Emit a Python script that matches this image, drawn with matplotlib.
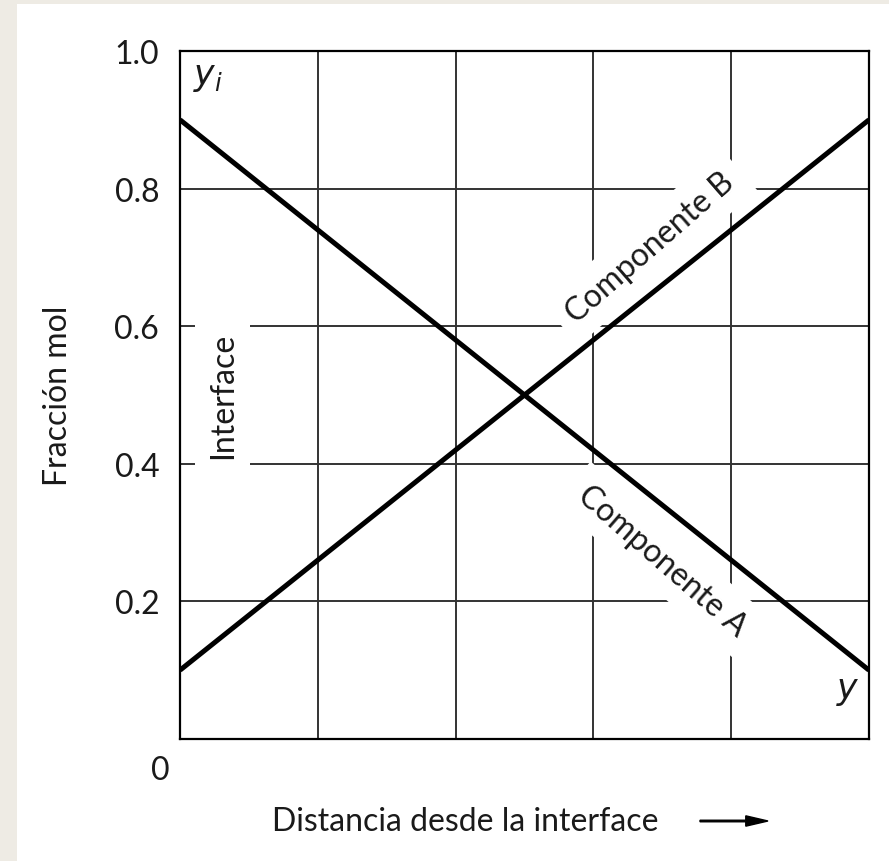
import numpy as np
import matplotlib.pyplot as plt
from matplotlib.patches import Rectangle, FancyArrow

# datos: fraccion mol vs distancia desde la interface
distancia = [0.0, 1.0]
comp_A = [0.9, 0.1]
comp_B = [0.1, 0.9]

yticks = [0.2, 0.4, 0.6, 0.8, 1.0]
yticklabels = ["0.2", "0.4", "0.6", "0.8", "1.0"]
xgrid = [0.2, 0.4, 0.6, 0.8]

plt.rcParams['font.family'] = ['Lato', 'DejaVu Sans']
txtcolor = '#1a1a1a'
fs = 23

fig = plt.figure(figsize=(8.89, 8.62), dpi=100)
fig.patch.set_facecolor('#eeebe4')
fig.patches.append(Rectangle((17/889, 0), 1, 1 - 5/862, transform=fig.transFigure,
                             facecolor='white', edgecolor='none', zorder=-5))

ax = fig.add_axes([180/889, 1 - 740/862, 689/889, 688/862])
ax.set_zorder(2)
ax.set_xlim(0, 1)
ax.set_ylim(0, 1)

for gx in xgrid:
    ax.axvline(gx, color='#333333', lw=1.4, zorder=1)
for gy in yticks[:-1]:
    ax.axhline(gy, color='#333333', lw=1.4, zorder=1)

ax.plot(distancia, comp_A, color='black', lw=3.6, zorder=3, solid_capstyle='butt')
ax.plot(distancia, comp_B, color='black', lw=3.6, zorder=3, solid_capstyle='butt')

for s in ax.spines.values():
    s.set_linewidth(1.6)
    s.set_zorder(4)

ax.set_xticks([])
ax.set_yticks(yticks)
ax.set_yticklabels(yticklabels, fontsize=fs, color=txtcolor)
ax.tick_params(axis='y', length=0, pad=15)
ax.text(-0.029, -0.045, "0", fontsize=fs, color=txtcolor, ha='center', va='center')

box = dict(facecolor='white', edgecolor='none', pad=9)
ax.text(0.062, 0.5, "Interface", rotation=90, fontsize=fs, color=txtcolor,
        ha='center', va='center', bbox=box, zorder=2)
ax.text(0.682, 0.715, "Componente B", rotation=41, fontsize=fs, color=txtcolor,
        ha='center', va='center', bbox=box, zorder=2, rotation_mode='anchor')
ax.text(0.70, 0.26, "Componente A", rotation=-41, fontsize=fs, color=txtcolor,
        ha='center', va='center', bbox=box, zorder=2, rotation_mode='anchor')
ax.text(0.04, 0.962, "$y_i$", fontsize=fs + 2, color=txtcolor, ha='center', va='center')
ax.text(0.97, 0.07, "$y$", fontsize=fs + 2, color=txtcolor, ha='center', va='center')

fig.text(58/889, 1 - 396/862, "Fracción mol", rotation=90, fontsize=fs,
         color=txtcolor, ha='center', va='center')
fig.text(465/889, 1 - 822/862, "Distancia desde la interface", fontsize=fs,
         color=txtcolor, ha='center', va='center')
fig.patches.append(FancyArrow(
    700/889, 1 - 822/862, 68/889, 0, width=0.0018, head_width=0.012,
    head_length=0.025, length_includes_head=True, color='black',
    transform=fig.transFigure))

fig.savefig('out.png', dpi=100, facecolor=fig.get_facecolor())
